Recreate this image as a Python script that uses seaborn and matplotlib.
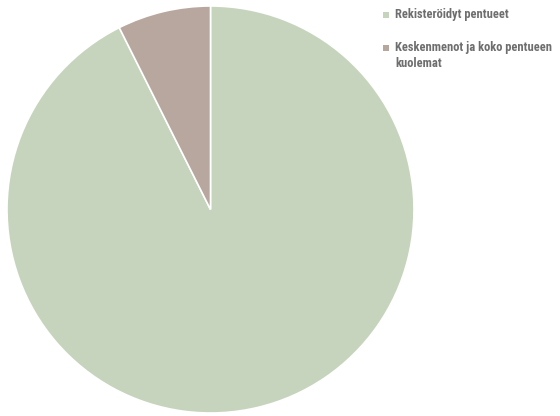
import matplotlib
matplotlib.use("Agg")
import matplotlib.pyplot as plt
import seaborn as sns
from matplotlib.patches import Rectangle
from matplotlib import font_manager

labels = ["Rekisteröidyt pentueet", "Keskenmenot ja koko pentueen\nkuolemat"]
shares = [92.6, 7.4]
colors = ["#c6d4bd", "#b7a79e"]

sns.set_theme(style="white")
installed = {f.name for f in font_manager.fontManager.ttflist}
narrow = [n for n in ["Roboto Condensed", "Open Sans Condensed", "Liberation Sans Narrow",
                      "Noto Sans Condensed", "DejaVu Sans Condensed"] if n in installed]
plt.rcParams["font.family"] = narrow + ["DejaVu Sans"]

W, H = 560, 416
fig = plt.figure(figsize=(W / 100, H / 100), dpi=100)
ax = fig.add_axes([7 / W, 3 / H, 407 / W, 407 / H])
ax.pie(shares, colors=colors, startangle=90, counterclock=False, radius=1,
       wedgeprops=dict(edgecolor="white", linewidth=1.2))
ax.set_xlim(-1.0, 1.0)
ax.set_ylim(-1.0, 1.0)
ax.set_aspect("equal")

# legend entries: colour square followed by label, stacked at the top right
entry_tops = [8, 41]
for label, color, top in zip(labels, colors, entry_tops):
    fig.patches.append(Rectangle((383 / W, 1 - (top + 10) / H), 6 / W, 6 / H,
                                 transform=fig.transFigure, facecolor=color,
                                 edgecolor="none"))
    fig.text(395 / W, 1 - top / H, label, ha="left", va="top", fontsize=9,
             fontweight="bold", color="#6e6e6e", linespacing=1.3)

fig.savefig("out.png", dpi=100)
